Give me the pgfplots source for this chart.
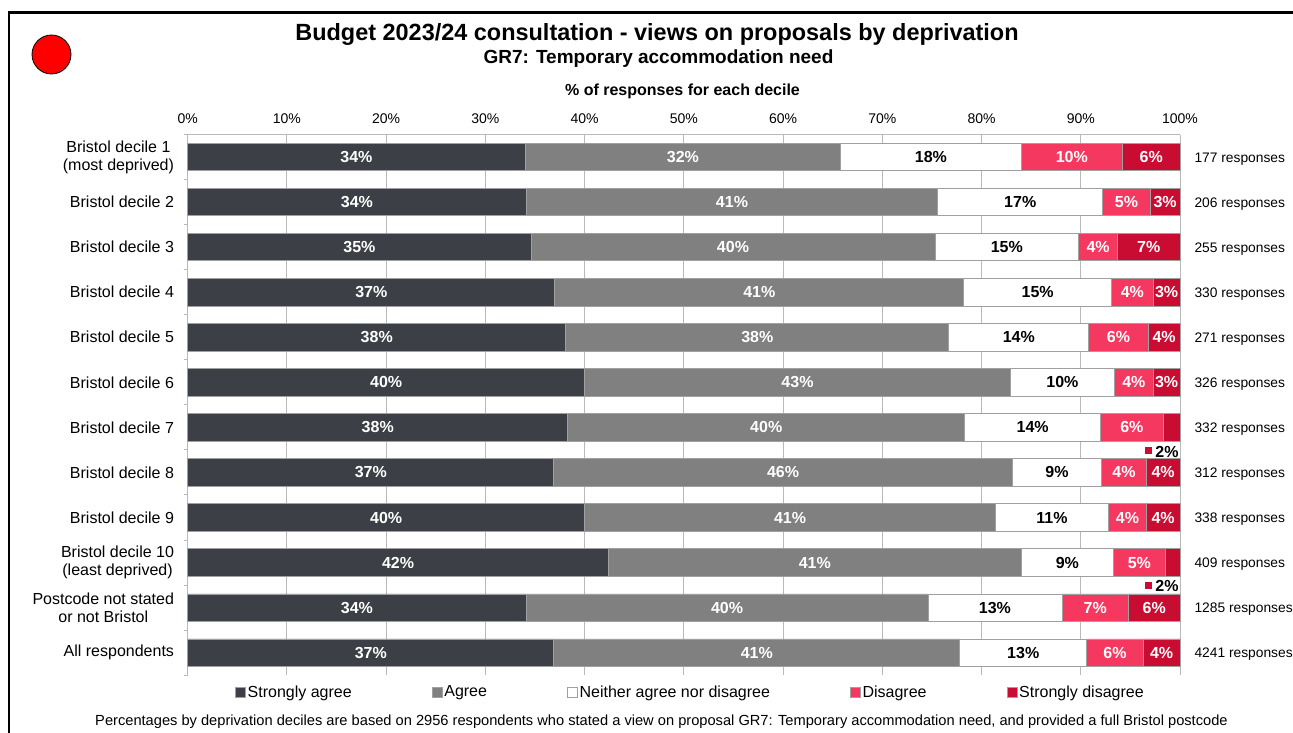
\documentclass[border=0pt]{standalone}
\usepackage{pgfplots}
\pgfplotsset{compat=1.18}
\usepackage{pgfplotstable}
\usepackage{fontspec}
\setmainfont{Liberation Sans}

\definecolor{sagree}{RGB}{60,63,69}
\definecolor{agree}{RGB}{128,128,128}
\definecolor{disag}{RGB}{245,56,96}
\definecolor{sdisag}{RGB}{200,12,50}
\definecolor{gridgray}{RGB}{185,185,185}
\definecolor{edge}{RGB}{160,160,160}

\pgfplotsset{
  sq/.style={legend image code/.code={\filldraw[##1] (0bp,-5bp) rectangle (10bp,5bp);}},
  frame/.style={at={(187.7bp,57.8bp)}, anchor=south west,
    scale only axis, width=992.3bp, height=540.7bp,
    xmin=0, xmax=100, ymin=-0.5, ymax=11.5, y dir=reverse, clip=false},
  lab/.style={only marks, mark=none, point meta=explicit symbolic,
    nodes near coords={\lbl{\pgfplotspointmeta}},
    every node near coord/.append style={anchor=center, inner sep=0pt,
      font=\bfseries\fontsize{16bp}{18bp}\selectfont, text=#1}},
}
\tikzset{resp/.style={anchor=west, inner sep=0pt, xshift=14.3bp, font=\fontsize{13.8bp}{16bp}\selectfont}}
% printed label, 0 means the label sits outside the bar
\newcommand\lbl[1]{\ifnum#1>0 #1\%\fi}

% one row per group, top to bottom; l-columns hold the printed percentages
\pgfplotstableread{
row sa   sal  ag   agl  ne   nel  di   dil  sd  sdl
0   34.0 34   31.8 32   18.2 18   10.2 10   5.8 6
1   34.1 34   41.5 41   16.6 17   4.8  5    3.0 3
2   34.6 35   40.7 40   14.5 15   3.9  4    6.3 7
3   37.0 37   41.2 41   14.9 15   4.2  4    2.7 3
4   38.1 38   38.6 38   14.1 14   6.0  6    3.2 4
5   40.0 40   42.9 43   10.5 10   3.9  4    2.7 3
6   38.3 38   40.0 40   13.7 14   6.3  6    1.7 0
7   36.9 37   46.2 46   9.0  9    4.5  4    3.4 4
8   40.0 40   41.4 41   11.4 11   3.8  4    3.4 4
9   42.4 42   41.6 41   9.3  9    5.2  5    1.5 0
10  34.1 34   40.5 40   13.5 13   6.7  7    5.2 6
11  36.9 37   40.9 41   12.8 13   5.7  6    3.7 4
}\data
% centres of the segments, for the labels
\pgfplotstablecreatecol[create col/expr={\thisrow{sa}/2}]{msa}{\data}
\pgfplotstablecreatecol[create col/expr={\thisrow{sa}+\thisrow{ag}/2}]{mag}{\data}
\pgfplotstablecreatecol[create col/expr={\thisrow{sa}+\thisrow{ag}+\thisrow{ne}/2}]{mne}{\data}
\pgfplotstablecreatecol[create col/expr={\thisrow{sa}+\thisrow{ag}+\thisrow{ne}+\thisrow{di}/2}]{mdi}{\data}
\pgfplotstablecreatecol[create col/expr={\thisrow{sa}+\thisrow{ag}+\thisrow{ne}+\thisrow{di}+\thisrow{sd}/2}]{msd}{\data}

\begin{document}
\begin{tikzpicture}
% frame and marker of the slide
\draw[line width=2.5bp] (9bp,-5bp) -- (9bp,720.3bp) -- (1300bp,720.3bp);
\draw[fill=red, line width=0.8bp] (51.5bp,678.5bp) circle[radius=19.5bp];

\node[anchor=base, font=\bfseries\fontsize{23.45bp}{26bp}\selectfont] at (657bp,692bp) {Budget 2023/24 consultation - views on proposals by deprivation};
\node[anchor=base, font=\bfseries\fontsize{19bp}{21bp}\selectfont] at (658.5bp,669bp) {GR7: Temporary accommodation need};
\node[anchor=base, font=\bfseries\fontsize{16bp}{18bp}\selectfont] at (682.5bp,637bp) {\% of responses for each decile};
\node[anchor=base, font=\fontsize{14.65bp}{17bp}\selectfont] at (661.5bp,8bp) {Percentages by deprivation deciles are based on 2956 respondents who stated a view on proposal GR7: Temporary accommodation need, and provided a full Bristol postcode};

\begin{axis}[
    frame,
    xbar stacked, bar width=27.4bp,
    axis x line*=top, axis y line*=left,
    axis line style={draw=gridgray, line width=1bp},
    xtick={0,10,...,100},
    xticklabels={0\%,10\%,20\%,30\%,40\%,50\%,60\%,70\%,80\%,90\%,100\%},
    xticklabel style={font=\fontsize{14bp}{16bp}\selectfont, inner sep=0pt, anchor=base, yshift=11bp},
    xmajorgrids, grid style={draw=gridgray, line width=1bp},
    ytick={0,...,11},
    yticklabels={{Bristol decile 1\\(most deprived)},Bristol decile 2,Bristol decile 3,Bristol decile 4,Bristol decile 5,Bristol decile 6,Bristol decile 7,Bristol decile 8,Bristol decile 9,{Bristol decile 10\\(least deprived)},{Postcode not stated\\or not Bristol},All respondents},
    yticklabel style={font=\fontsize{16bp}{18.3bp}\selectfont, align=center, inner sep=0pt, anchor=east, xshift=-13.5bp},
    minor ytick={-0.5,0.5,...,11.5},
    major tick length=0pt, minor tick length=4bp, tick align=outside,
    tick style={draw=gridgray, line width=1bp},
    legend columns=5,
    legend style={at={(0.5065,-0.031)}, anchor=center, draw=none, fill=none,
        font=\fontsize{16bp}{18bp}\selectfont, nodes={inner sep=1.5bp},
        /tikz/every even column/.append style={column sep=78.8bp}},
]
\addplot[sq, fill=sagree, draw=edge, line width=0.8bp] table[x=sa, y=row] {\data};
\addplot[sq, fill=agree, draw=edge, line width=0.8bp] table[x=ag, y=row] {\data};
\addplot[sq, fill=white, draw=edge, line width=0.8bp] table[x=ne, y=row] {\data};
\addplot[sq, fill=disag, draw=edge, line width=0.8bp] table[x=di, y=row] {\data};
\addplot[sq, fill=sdisag, draw=edge, line width=0.8bp] table[x=sd, y=row] {\data};
\legend{Strongly agree, Agree, Neither agree nor disagree, Disagree, Strongly disagree}
\end{axis}

% same frame, no stacking: labels, counts and call-outs
\begin{axis}[frame, hide axis]
\addplot[lab=white] table[x=msa, y=row, meta=sal] {\data};
\addplot[lab=white] table[x=mag, y=row, meta=agl] {\data};
\addplot[lab=black] table[x=mne, y=row, meta=nel] {\data};
\addplot[lab=white] table[x=mdi, y=row, meta=dil] {\data};
\addplot[lab=white] table[x=msd, y=row, meta=sdl] {\data};

\node[resp] at (axis cs:100,0.04) {177 responses};
\node[resp] at (axis cs:100,1.04) {206 responses};
\node[resp] at (axis cs:100,2.04) {255 responses};
\node[resp] at (axis cs:100,3.04) {330 responses};
\node[resp] at (axis cs:100,4.04) {271 responses};
\node[resp] at (axis cs:100,5.04) {326 responses};
\node[resp] at (axis cs:100,6.04) {332 responses};
\node[resp] at (axis cs:100,7.04) {312 responses};
\node[resp] at (axis cs:100,8.04) {338 responses};
\node[resp] at (axis cs:100,9.04) {409 responses};
\node[resp] at (axis cs:100,10.04) {1285 responses};
\node[resp] at (axis cs:100,11.04) {4241 responses};

% call-outs for the thin strongly disagree segments
\node[fill=sdisag, minimum size=7bp, inner sep=0pt] at (axis cs:96.8,6.52) {};
\node[anchor=west, inner sep=0pt, font=\bfseries\fontsize{16bp}{18bp}\selectfont] at (axis cs:97.5,6.54) {2\%};
\node[fill=sdisag, minimum size=7bp, inner sep=0pt] at (axis cs:96.8,9.5) {};
\node[anchor=west, inner sep=0pt, font=\bfseries\fontsize{16bp}{18bp}\selectfont] at (axis cs:97.5,9.52) {2\%};
\end{axis}
\pgfresetboundingbox
\useasboundingbox (0,0) rectangle (1293bp,733bp);
\end{tikzpicture}
\end{document}
